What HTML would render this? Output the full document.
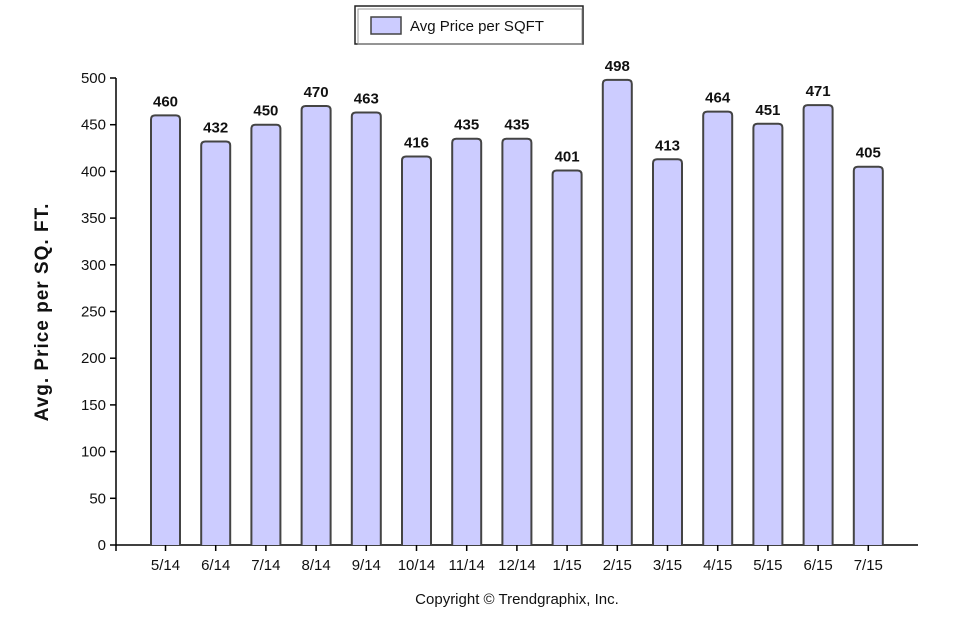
<!DOCTYPE html>
<html><head><meta charset="utf-8"><style>
body{margin:0;background:#fff;}
svg text{font-family:"Liberation Sans",sans-serif;}
</style></head><body>
<svg width="978" height="624">
<g>
<rect x="355" y="6" width="228" height="38" fill="#fff" stroke="#222" stroke-width="1.5"/>
<rect x="358" y="9" width="224" height="35" fill="none" stroke="#999" stroke-width="1"/>
<rect x="371" y="17" width="30" height="17" fill="#ccccff" stroke="#444" stroke-width="1.5"/>
<text x="410" y="31" font-size="15" fill="#111">Avg Price per SQFT</text>
</g>
<text transform="translate(48,312) rotate(-90)" text-anchor="middle" font-size="19" font-weight="bold" letter-spacing="1" fill="#111">Avg. Price per SQ. FT.</text>
<g id="axes"></g>
<g id="bars"></g>
<text x="517" y="604" text-anchor="middle" font-size="15" fill="#111">Copyright © Trendgraphix, Inc.</text>
</svg>
<script>
const categories=["5/14","6/14","7/14","8/14","9/14","10/14","11/14","12/14","1/15","2/15","3/15","4/15","5/15","6/15","7/15"];
const values=[460,432,450,470,463,416,435,435,401,498,413,464,451,471,405];
const yTicks=[0,50,100,150,200,250,300,350,400,450,500];
const NS="http://www.w3.org/2000/svg";
const y0=545,yTop=78,yMax=500,axisX=116,axisEnd=918,firstC=165.5,step=50.2,bw=29;
const y=v=>y0-(v/yMax)*(y0-yTop);
const x=i=>firstC+i*step;
function mk(t,a,p){const e=document.createElementNS(NS,t);for(const k in a)e.setAttribute(k,a[k]);p.appendChild(e);return e;}
const ax=document.getElementById('axes'),bars=document.getElementById('bars');
let l=mk('line',{x1:axisX,y1:yTop,x2:axisX,y2:y0,stroke:'#000','stroke-width':1.5},ax);


l=mk('line',{x1:axisX,y1:y0,x2:axisEnd,y2:y0,stroke:'#000','stroke-width':1.5},ax);


yTicks.forEach(t=>{
 mk('line',{x1:axisX-6,y1:y(t),x2:axisX,y2:y(t),stroke:'#000','stroke-width':1.5},ax);
 const tx=mk('text',{x:axisX-10,y:y(t)+5,'text-anchor':'end','font-size':15,fill:'#111'},ax);
 tx.textContent=t;
 
 
});
mk('line',{x1:axisX,y1:y0,x2:axisX,y2:y0+6,stroke:'#000','stroke-width':1.5},ax);
categories.forEach((c,i)=>{
 const cx=x(i),v=values[i],top=y(v),r=4,L=cx-bw/2,R=cx+bw/2;
 const p=mk('path',{d:`M${L},${y0} L${L},${top+r} Q${L},${top} ${L+r},${top} L${R-r},${top} Q${R},${top} ${R},${top+r} L${R},${y0}`,fill:'#ccccff',stroke:'#444','stroke-width':2},bars);
 
 
 const vl=mk('text',{x:cx,y:top-9,'text-anchor':'middle','font-size':15,'font-weight':'bold',fill:'#111'},bars);
 vl.textContent=v;
 
 
 mk('line',{x1:cx,y1:y0,x2:cx,y2:y0+6,stroke:'#000','stroke-width':1.5},ax);
 const xl=mk('text',{x:cx,y:y0+25,'text-anchor':'middle','font-size':15,fill:'#111'},ax);
 xl.textContent=c;
 
 
});
</script>
</body></html>
